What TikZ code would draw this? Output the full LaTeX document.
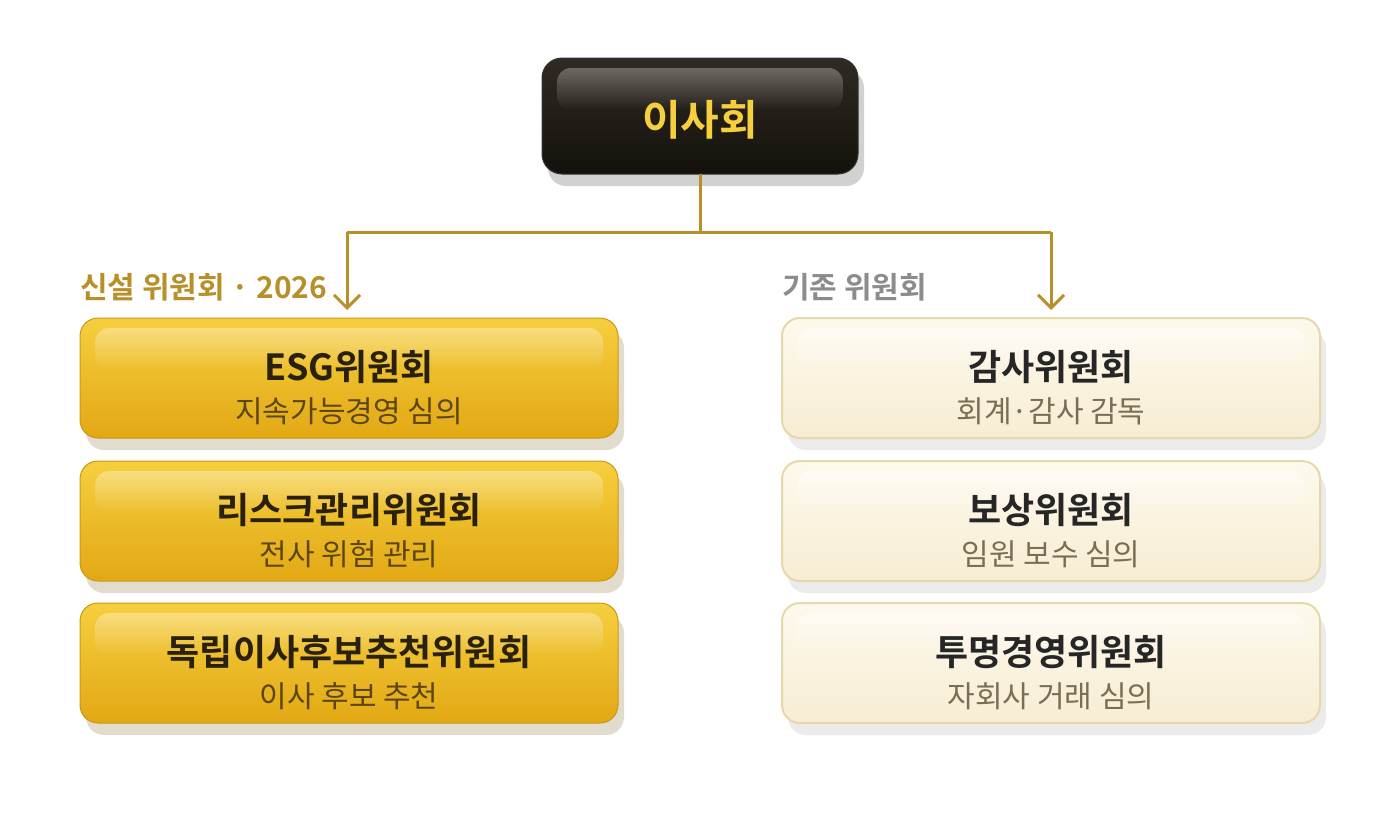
\documentclass[tikz,border=0pt]{standalone}
\usepackage{fontspec}
\setmainfont{Noto Sans CJK KR}
\newfontfamily\krb{Noto Sans CJK KR}[BoldFont={* Bold}]
\usetikzlibrary{arrows.meta,fadings,shadows}
\definecolor{gold}{HTML}{B8902A}
\definecolor{darkA}{HTML}{302A22}
\definecolor{darkB}{HTML}{14110C}
\definecolor{yelA}{HTML}{F6CF3E}
\definecolor{yelB}{HTML}{E2A814}
\definecolor{creA}{HTML}{FDF9EC}
\definecolor{creB}{HTML}{F6EDD3}
\definecolor{creLine}{HTML}{E6D8A8}
\definecolor{shadowC}{HTML}{E2DCCF}
\definecolor{titleC}{HTML}{2A200E}
\definecolor{subY}{HTML}{5C4714}
\definecolor{subC}{HTML}{7A6D55}
\definecolor{grayL}{HTML}{8C8C8C}
\tikzset{
  every node/.style={inner sep=0pt},
  shadowbox/.style={fill=shadowC, rounded corners=18pt},
  topbox/.style={top color=darkA, bottom color=darkB, rounded corners=20pt, draw=black!80, line width=1pt},
  yelbox/.style={top color=yelA, bottom color=yelB, rounded corners=18pt, draw=yelB!90!black, line width=1pt},
  crebox/.style={top color=creA, bottom color=creB, rounded corners=18pt, draw=creLine, line width=2pt},
  gloss/.style={fill=white, fill opacity=0.35, path fading=south, rounded corners=14pt},
  darkgloss/.style={fill=white, fill opacity=0.3, path fading=south, rounded corners=14pt},
  ttl/.style={font=\krb\bfseries\fontsize{36}{42}\selectfont, text=titleC},
  subtY/.style={font=\krb\fontsize{30}{36}\selectfont, text=subY},
  subtC/.style={font=\krb\fontsize{30}{36}\selectfont, text=subC},
  conn/.style={draw=gold, line width=3pt},
  arr/.style={conn, -{Straight Barb[length=13pt,width=26pt,line width=3pt]}},
}
\begin{document}
\begin{tikzpicture}[x=1pt,y=-1pt]
\useasboundingbox (0,0) rectangle (1400,835);
% top box
\fill[shadowbox, fill=black!18] (548,70) rectangle (864,186);
\path[topbox] (542,58) rectangle (858,174);
\fill[darkgloss] (557,68) rectangle (843,110);
\node[font=\krb\bfseries\fontsize{42}{48}\selectfont, text=yelA] (board) at (700,120) {이사회};
\coordinate (bt) at (700,174);
% connectors
\coordinate (jl) at (347,232);
\coordinate (jr) at (1051,232);
\draw[conn] (bt) -- (700,232);
\draw[conn] (jl) -- (jr);
\coordinate (al) at (347,310);
\coordinate (ar) at (1051,310);
\draw[arr] (jl) -- (al);
\draw[arr] (jr) -- (ar);
% labels
\node[anchor=west, font=\krb\bfseries\fontsize{30}{36}\selectfont, text=gold] (lblL) at (80,287) {신설 위원회 · 2026};
\node[anchor=west, font=\krb\bfseries\fontsize{30}{36}\selectfont, text=grayL] (lblR) at (782,287) {기존 위원회};
% left boxes
\foreach \y/\t/\s [count=\i] in {318/ESG위원회/지속가능경영 심의, 461/리스크관리위원회/전사 위험 관리, 603/독립이사후보추천위원회/이사 후보 추천}{
  \fill[shadowbox] (86,\y+12) rectangle (624,\y+132);
  \path[yelbox] (80,\y) rectangle (618,\y+120);
  \fill[gloss] (95,\y+10) rectangle (603,\y+52);
  \node[ttl] (L\i) at (349,\y+49) {\t};
  \node[subtY] (Ls\i) at (349,\y+93) {\s};
}
% right boxes
\foreach \y/\t/\s [count=\i] in {318/감사위원회/회계·감사 감독, 461/보상위원회/임원 보수 심의, 603/투명경영위원회/자회사 거래 심의}{
  \fill[shadowbox, fill=black!8] (788,\y+12) rectangle (1326,\y+132);
  \path[crebox] (782,\y) rectangle (1320,\y+120);
  \fill[gloss, fill opacity=0.5] (797,\y+10) rectangle (1305,\y+52);
  \node[ttl, text=black!85] (R\i) at (1051,\y+49) {\t};
  \node[subtC] (Rs\i) at (1051,\y+93) {\s};
}
\end{tikzpicture}
\end{document}
